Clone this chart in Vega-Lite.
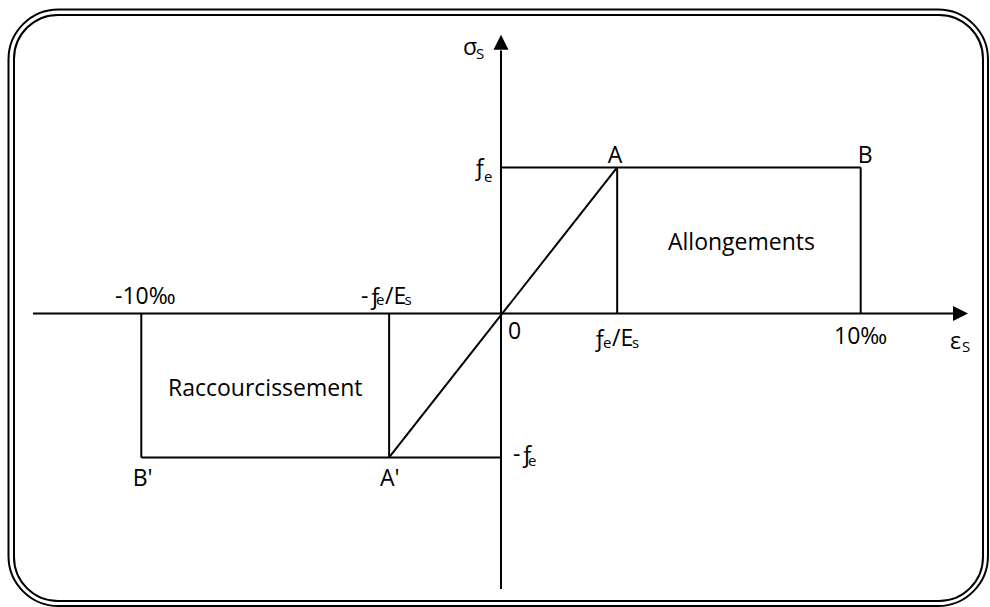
{
  "$schema": "https://vega.github.io/schema/vega-lite/v6.json",
  "width": 990,
  "height": 607,
  "padding": 0,
  "autosize": {"type": "fit", "contains": "padding"},
  "background": "white",
  "config": {"view": {"stroke": null}},
  "datasets": {
    "frames": [
      {"frame": "outer", "x": -13.692, "x2": 13.539, "y": 2.081, "y2": -2.003},
      {"frame": "inner", "x": -13.539, "x2": 13.4, "y": 2.044, "y2": -1.969}
    ],
    "segments": [
      {"seg": "axe ε", "x": -13.01, "y": 0, "x2": 12.6, "y2": 0},
      {"seg": "axe σ", "x": 0, "y": -1.887, "x2": 0, "y2": 1.8},
      {"seg": "fe", "x": 0, "y": 1, "x2": 10, "y2": 1},
      {"seg": "A", "x": 3.23, "y": 0, "x2": 3.23, "y2": 1},
      {"seg": "B", "x": 10, "y": 0, "x2": 10, "y2": 1},
      {"seg": "A'A", "x": -3.11, "y": -0.986, "x2": 3.23, "y2": 1},
      {"seg": "-fe", "x": -10, "y": -0.986, "x2": 0, "y2": -0.986},
      {"seg": "B'", "x": -10, "y": -0.986, "x2": -10, "y2": 0},
      {"seg": "A'", "x": -3.11, "y": -0.986, "x2": -3.11, "y2": 0}
    ],
    "arrows": [
      {"dir": "right", "x": 12.775, "y": 0},
      {"dir": "up", "x": 0, "y": 1.856}
    ],
    "labels": [
      {"t": "σ", "x": -1.056, "y": 1.77, "role": "main"},
      {"t": "S", "x": -0.695, "y": 1.743, "role": "sub"},
      {"t": "A", "x": 2.968, "y": 1.032, "role": "main"},
      {"t": "B", "x": 9.917, "y": 1.032, "role": "main"},
      {"t": "Allongements", "x": 4.643, "y": 0.4375, "role": "main"},
      {"t": "ƒ", "x": -0.778, "y": 0.95, "role": "main"},
      {"t": "e", "x": -0.473, "y": 0.902, "role": "sub"},
      {"t": "-10‰", "x": -10.731, "y": 0.068, "role": "main"},
      {"t": "-ƒ", "x": -3.892, "y": 0.068, "role": "main"},
      {"t": "e", "x": -3.475, "y": 0.055, "role": "sub"},
      {"t": "/E", "x": -3.225, "y": 0.068, "role": "main"},
      {"t": "s", "x": -2.683, "y": 0.055, "role": "sub"},
      {"t": "0", "x": 0.195, "y": -0.178, "role": "main"},
      {"t": "ƒ", "x": 2.558, "y": -0.2235, "role": "main"},
      {"t": "e", "x": 2.836, "y": -0.236, "role": "sub"},
      {"t": "/E", "x": 3.086, "y": -0.2235, "role": "main"},
      {"t": "s", "x": 3.642, "y": -0.236, "role": "sub"},
      {"t": "10‰", "x": 9.258, "y": -0.212, "role": "main"},
      {"t": "ε", "x": 12.483, "y": -0.246, "role": "main"},
      {"t": "S", "x": 12.816, "y": -0.267, "role": "sub"},
      {"t": "Raccourcissement", "x": -9.258, "y": -0.567, "role": "main"},
      {"t": "-ƒ", "x": 0.334, "y": -1.018, "role": "main"},
      {"t": "e", "x": 0.751, "y": -1.046, "role": "sub"},
      {"t": "B'", "x": -10.239, "y": -1.182, "role": "main"},
      {"t": "A'", "x": -3.364, "y": -1.182, "role": "main"}
    ]
  },
  "encoding": {
    "x": {"field": "x", "type": "quantitative", "scale": {"domain": [-13.928, 13.595], "nice": false, "zero": false}, "axis": null},
    "y": {"field": "y", "type": "quantitative", "scale": {"domain": [-2.003, 2.146], "nice": false, "zero": false}, "axis": null}
  },
  "layer": [
    {
      "data": {"name": "frames"},
      "transform": [{"filter": "datum.frame === 'outer'"}],
      "mark": {"type": "rect", "fill": null, "stroke": "black", "strokeWidth": 2, "cornerRadius": 50},
      "encoding": {"x2": {"field": "x2"}, "y2": {"field": "y2"}}
    },
    {
      "data": {"name": "frames"},
      "transform": [{"filter": "datum.frame === 'inner'"}],
      "mark": {"type": "rect", "fill": null, "stroke": "black", "strokeWidth": 2, "cornerRadius": 44},
      "encoding": {"x2": {"field": "x2"}, "y2": {"field": "y2"}}
    },
    {
      "data": {"name": "segments"},
      "mark": {"type": "rule", "color": "black", "strokeWidth": 2},
      "encoding": {"x2": {"field": "x2"}, "y2": {"field": "y2"}}
    },
    {
      "data": {"name": "arrows"},
      "mark": {"type": "point", "filled": true, "color": "black", "opacity": 1, "size": 225, "strokeWidth": 0},
      "encoding": {
        "shape": {"field": "dir", "type": "nominal", "scale": {"domain": ["right", "up"], "range": ["M-1,-1L1,0L-1,1Z", "M-1,1L0,-1L1,1Z"]}, "legend": null}
      }
    },
    {
      "data": {"name": "labels"},
      "mark": {"type": "text", "align": "left", "baseline": "alphabetic", "font": "Open Sans", "color": "black"},
      "encoding": {
        "text": {"field": "t"},
        "size": {"field": "role", "type": "ordinal", "scale": {"domain": ["main", "sub"], "range": [23, 15]}, "legend": null}
      }
    }
  ]
}
